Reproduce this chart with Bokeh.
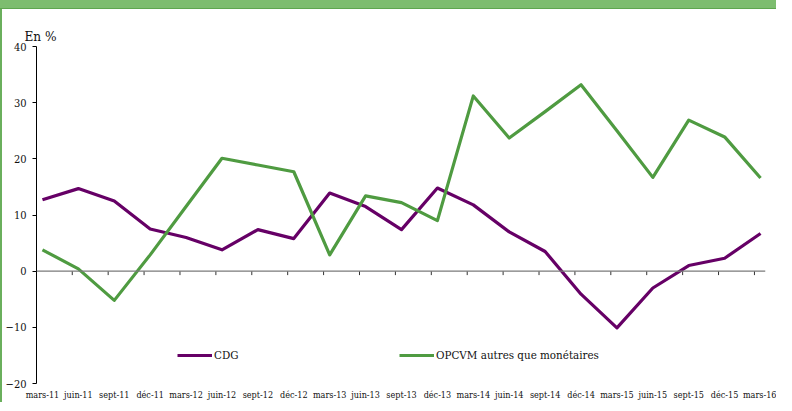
from bokeh.plotting import figure
from bokeh.models import Span, Legend, LegendItem, FixedTicker, Div
from bokeh.layouts import column, row
from bokeh.embed import file_html
from bokeh.resources import INLINE

categories = ["mars-11", "juin-11", "sept-11", "déc-11", "mars-12", "juin-12", "sept-12",
              "déc-12", "mars-13", "juin-13", "sept-13", "déc-13", "mars-14", "juin-14",
              "sept-14", "déc-14", "mars-15", "juin-15", "sept-15", "déc-15", "mars-16"]
cdg = [12.7, 14.7, 12.5, 7.5, 6.0, 3.8, 7.4, 5.8, 13.9, 11.5, 7.4, 14.8, 11.8, 7.0,
       3.5, -4.1, -10.1, -3.0, 1.0, 2.3, 6.7]
opcvm = [3.8, 0.4, -5.2, 2.9, 11.5, 20.1, 18.9, 17.7, 2.9, 13.4, 12.2, 9.0, 31.2, 23.7,
         28.4, 33.2, 25.0, 16.7, 26.9, 23.9, 16.6]
y_ticks = [-20, -10, 0, 10, 20, 30, 40]
series_names = ["CDG", "OPCVM autres que monétaires"]

PURPLE = "#660066"
GREEN = "#4f9b41"
FONT = "DejaVu Serif Condensed"

xs = list(range(len(categories)))

# header band and left rule (page decoration)
bar = Div(text="", width=776, height=9, margin=0,
          styles={"background-color": "#7dbd6f", "border-bottom": "1px solid #5ea64f"})
side = Div(text="", width=2, height=393, margin=0, styles={"background-color": "#6aaf5c"})

p = figure(width=774, height=393, output_backend="svg", toolbar_location=None,
           x_range=(-0.166, 20.138), y_range=(-20, 40), margin=0,
           min_border_left=27, min_border_right=11, min_border_top=37, min_border_bottom=16)
p.outline_line_color = None
p.grid.visible = False
p.background_fill_color = "white"

p.title.text = "En %"
p.title.text_font = FONT
p.title.text_font_size = "13.5px"
p.title.text_font_style = "normal"
p.title.text_color = "#111111"
p.title.align = "left"
p.title.offset = -12
p.title.standoff = 6

ya = p.yaxis[0]
ya.ticker = FixedTicker(ticks=y_ticks)
ya.axis_line_color = "black"
ya.major_tick_out = 4
ya.major_tick_in = 0
ya.major_tick_line_color = "black"
ya.minor_tick_line_color = None
ya.major_label_standoff = 6
ya.major_label_text_font = FONT
ya.major_label_text_font_size = "11px"
ya.major_label_text_color = "#111111"

xa = p.xaxis[0]
xa.ticker = FixedTicker(ticks=xs)
xa.major_label_overrides = {i: c for i, c in enumerate(categories)}
xa.axis_line_color = None
xa.major_tick_line_color = None
xa.major_tick_out = 0
xa.major_tick_in = 0
xa.minor_tick_line_color = None
xa.major_label_standoff = 6
xa.major_label_text_font = FONT
xa.major_label_text_font_size = "9px"
xa.major_label_text_color = "#111111"

# zero line with category tick marks
p.add_layout(Span(location=0, dimension="width", line_color="#7a7a7a", line_width=1.3))
tick_x = [i - 0.17 for i in xs]
p.segment(x0=tick_x, y0=[0] * len(xs), x1=tick_x, y1=[-0.7] * len(xs),
          line_color="#333333", line_width=1)

r1 = p.line(xs, cdg, line_color=PURPLE, line_width=3.2, line_join="round")
r2 = p.line(xs, opcvm, line_color=GREEN, line_width=3.2, line_join="round")

legend = Legend(items=[LegendItem(label=series_names[0], renderers=[r1]),
                       LegendItem(label=series_names[1], renderers=[r2])],
                orientation="horizontal", location=(141, 21), padding=0, margin=0,
                spacing=0, glyph_width=35, glyph_height=14, label_standoff=2,
                label_width=185, label_text_font=FONT, label_text_font_size="11.5px",
                label_text_color="#111111", border_line_alpha=0, background_fill_alpha=0)
p.add_layout(legend, "center")

layout = column(bar, row(side, p, spacing=0, margin=0), spacing=0, margin=0)
open("out.html", "w").write(file_html(layout, INLINE))
